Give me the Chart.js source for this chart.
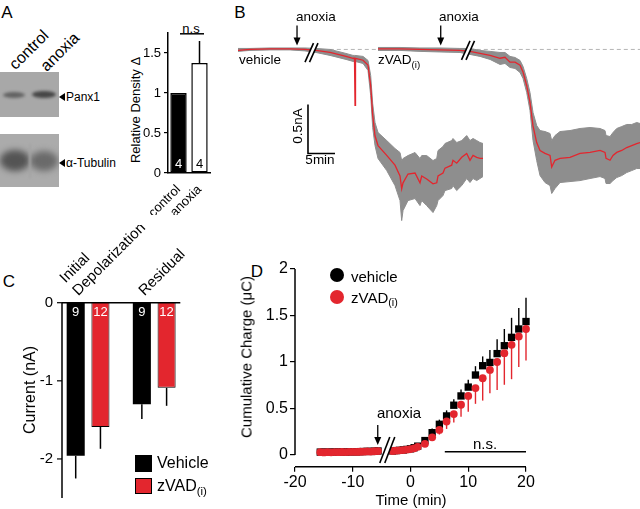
<!DOCTYPE html>
<html><head><meta charset="utf-8">
<script src="https://cdn.jsdelivr.net/npm/chart.js@4.4.1/dist/chart.umd.min.js"></script>
<style>
html,body{margin:0;padding:0;background:#fff;}
#fig{position:relative;width:640px;height:509px;overflow:hidden;font-family:'Liberation Sans',Arial,Helvetica,sans-serif;color:#000;}
canvas{position:absolute;}
.t{position:absolute;white-space:nowrap;line-height:1;transform:translate(-50%,-50%);}
.l{position:absolute;white-space:nowrap;line-height:1;transform:translate(0,-50%);}
.r90{transform:translate(-50%,-50%) rotate(-90deg);}
.r45{transform:translate(-50%,-50%) rotate(-45deg);}
sub{font-size:0.72em;vertical-align:-0.35em;line-height:0;}
.blot{position:absolute;overflow:hidden;}
.band{position:absolute;border-radius:50%;}
.tri{position:absolute;width:0;height:0;border-top:4px solid transparent;border-bottom:4px solid transparent;border-right:6px solid #000;}
.sq{position:absolute;box-sizing:border-box;}
.dot{position:absolute;border-radius:50%;}
</style></head>
<body><div id="fig">
<!-- panel letters -->
<div class="t" style="left:7px;top:12px;font-size:17px">A</div>
<div class="t" style="left:240px;top:12px;font-size:17px">B</div>
<div class="t" style="left:9px;top:281px;font-size:17px">C</div>
<div class="t" style="left:257px;top:271px;font-size:17px">D</div>

<!-- Panel A blots -->
<div class="blot" style="left:0;top:72px;width:59px;height:45px;background:#a8a8a8">
  <div class="band" style="left:3px;top:20px;width:22px;height:6px;background:#626262;filter:blur(1.5px)"></div>
  <div class="band" style="left:32px;top:19px;width:24px;height:7px;background:#464646;filter:blur(1.5px)"></div>
</div>
<div class="blot" style="left:0;top:134px;width:59px;height:53px;background:#ababab">
  <div class="band" style="left:0px;top:16px;width:30px;height:21px;background:#545454;filter:blur(3px)"></div>
  <div class="band" style="left:30px;top:17px;width:28px;height:20px;background:#6a6a6a;filter:blur(3px)"></div>
  <div style="position:absolute;left:29px;top:10px;width:2px;height:34px;background:#a5a5a5;filter:blur(1px)"></div>
</div>
<div class="t r45" style="left:29px;top:50px;font-size:16px">control</div>
<div class="t r45" style="left:60px;top:52px;font-size:16px">anoxia</div>
<div class="tri" style="left:59px;top:93px"></div>
<div class="l" style="left:66px;top:97px;font-size:12px">Panx1</div>
<div class="tri" style="left:59px;top:159px"></div>
<div class="l" style="left:66px;top:163px;font-size:12px">α-Tubulin</div>
<div class="t r90" style="left:135px;top:110px;font-size:13px">Relative Density Δ</div>
<div class="t" style="left:191px;top:28px;font-size:13px">n.s</div>
<canvas id="cA" width="95" height="195" style="left:120px;top:20px"></canvas>

<!-- Panel B -->
<canvas id="cB" width="402" height="206" style="left:238px;top:20px"></canvas>
<div class="l" style="left:296px;top:17px;font-size:13.5px">anoxia</div>
<div class="l" style="left:439px;top:17px;font-size:13.5px">anoxia</div>
<div class="l" style="left:239px;top:60px;font-size:13.5px">vehicle</div>
<div class="l" style="left:378px;top:60px;font-size:13.5px">zVAD<sub>(i)</sub></div>
<div class="t r90" style="left:298px;top:126px;font-size:13.5px">0.5nA</div>
<div class="t" style="left:320px;top:160px;font-size:13.5px">5min</div>

<!-- Panel C -->
<canvas id="cC" width="200" height="284" style="left:0;top:225px"></canvas>
<div class="t r90" style="left:30px;top:390px;font-size:16px">Current (nA)</div>
<div class="sq" style="left:135px;top:455px;width:17px;height:17px;background:#000"></div>
<div class="l" style="left:157px;top:463px;font-size:16px">Vehicle</div>
<div class="sq" style="left:135px;top:478px;width:17px;height:16px;background:#e3262e;border:1px solid #000"></div>
<div class="l" style="left:157px;top:486px;font-size:16px">zVAD<sub>(i)</sub></div>

<!-- Panel D -->
<canvas id="cD" width="400" height="254" style="left:240px;top:255px"></canvas>
<div class="dot" style="left:330px;top:268px;width:14px;height:14px;background:#000"></div>
<div class="l" style="left:351px;top:276px;font-size:15px">vehicle</div>
<div class="dot" style="left:330px;top:290px;width:14px;height:14px;background:#e3262e"></div>
<div class="l" style="left:351px;top:297px;font-size:15px">zVAD<sub>(i)</sub></div>
<div class="t" style="left:399px;top:412px;font-size:15px">anoxia</div>
<div class="t" style="left:485px;top:443px;font-size:15px">n.s.</div>
<div class="t r90" style="left:246px;top:357px;font-size:15px">Cumulative Charge (μC)</div>
<div class="t" style="left:411px;top:499px;font-size:15px">Time (min)</div>
</div>

<script>
// ================= DATA =================
// Panel A: relative density of Panx1
const aCategories = ['control', 'anoxia'];
const aDensity = [1.0, 1.375];
const aDensityErr = [0, 0.275];
const aN = ['4', '4'];
const aSigLevel = 1.74;

// Panel B: mean current traces (nA) with SEM band, time in minutes
const bVehTime  = [0,2.22,5.93,9.63,12.4,14.44,17.04,20.0,21.3,21.57,21.67,21.76,23.15,24.07,24.57,24.94,25.37,25.93,27.54,29.07,30.0,30.31,30.56,31.48,32.78,33.7,34.02,34.94,36.11,36.8,37.04,37.96,38.33,39.57,39.81,40.5,41.43,42.35,42.96,43.52,44.2,44.81,45.37];
const bVehMean  = [-0.01,0,0.005,0.005,0,-0.01,-0.03,-0.07,-0.09,-0.09,-0.57,-0.09,-0.11,-0.16,-0.37,-0.67,-0.88,-0.98,-1.08,-1.18,-1.29,-1.42,-1.36,-1.27,-1.26,-1.36,-1.29,-1.32,-1.37,-1.36,-1.29,-1.26,-1.21,-1.18,-1.13,-1.16,-1.10,-1.06,-1.13,-1.08,-1.10,-1.11,-1.11];
const bVehUpper = [0.01,0.01,0.015,0.015,0.015,0.01,0,-0.041,-0.061,-0.061,-0.061,-0.061,-0.071,-0.112,-0.265,-0.551,-0.745,-0.847,-0.929,-1.01,-1.051,-1.133,-1.112,-1.082,-1.051,-1.112,-1.082,-1.082,-1.133,-1.112,-1.031,-0.99,-0.959,-0.929,-0.908,-0.949,-0.929,-0.878,-0.929,-0.908,-0.929,-0.949,-0.959];
const bVehLower = [-0.02,-0.01,-0.005,-0.005,-0.015,-0.031,-0.061,-0.102,-0.122,-0.122,-0.122,-0.122,-0.143,-0.214,-0.469,-0.796,-0.98,-1.112,-1.235,-1.388,-1.541,-1.745,-1.643,-1.541,-1.52,-1.592,-1.541,-1.592,-1.663,-1.592,-1.541,-1.49,-1.439,-1.418,-1.388,-1.439,-1.388,-1.316,-1.357,-1.316,-1.337,-1.316,-1.296];
const bZTime  = [25.93,30.0,33.7,37.4,41.1,42.96,44.81,46.67,48.52,49.44,50.37,51.3,52.22,52.78,53.46,54.07,54.63,55.31,55.93,56.85,57.78,58.09,58.7,59.63,61.48,63.33,65.19,67.04,67.96,68.15,68.89,69.44,70.13,71.06,71.98,72.91,73.83,74.44];
const bZMean  = [0.005,0.005,0,-0.005,-0.01,-0.02,-0.04,-0.06,-0.09,-0.08,-0.13,-0.13,-0.16,-0.23,-0.37,-0.54,-0.78,-0.95,-1.03,-1.06,-1.08,-1.2,-1.13,-1.11,-1.1,-1.06,-1.05,-1.03,-1.05,-1.11,-1.13,-1.08,-1.05,-1.03,-1.0,-0.98,-0.96,-0.95];
const bZUpper = [0.02,0.02,0.015,0.015,0.01,0.01,-0.01,-0.02,-0.031,-0.031,-0.071,-0.082,-0.112,-0.173,-0.296,-0.439,-0.643,-0.776,-0.827,-0.837,-0.857,-0.929,-0.878,-0.837,-0.827,-0.806,-0.796,-0.806,-0.827,-0.878,-0.888,-0.847,-0.806,-0.786,-0.765,-0.765,-0.745,-0.755];
const bZLower = [-0.01,-0.01,-0.02,-0.026,-0.031,-0.051,-0.071,-0.102,-0.153,-0.143,-0.184,-0.194,-0.235,-0.296,-0.439,-0.622,-0.929,-1.133,-1.286,-1.357,-1.388,-1.469,-1.418,-1.357,-1.347,-1.337,-1.316,-1.296,-1.316,-1.367,-1.367,-1.337,-1.306,-1.286,-1.255,-1.235,-1.214,-1.214];
const bBaseTime = [17, 74.44];
const bBaseline = [0, 0];
const bAnoxiaTimes = [10.93, 37.54];
const bBreakTimes = [13.61, 42.59];
const bBreakLevels = [-0.032, -0.01];
const bScaleT0 = 12.96, bScaleI0 = -1.061, bScaleI = 0.5, bScaleT = 5;

// Panel C: current amplitudes (nA)
const cCategories = [['Initial', 'Depolarization'], 'Residual'];
const cVehicle = [-1.96, -1.30];
const cVehicleErr = [0.29, 0.19];
const cZvad = [-1.59, -1.09];
const cZvadErr = [0.28, 0.23];
const cVehicleN = ['9', '9'];
const cZvadN = ['12', '12'];

// Panel D: cumulative charge (µC) vs time (min)
const dTime = [-15.625,-15,-14.375,-13.75,-13.125,-12.5,-11.875,-11.25,-10.625,-10,-9.375,-8.75,-8.125,-7.5,-6.875,-6.25,-5.625,
               -3.125,-2.5,-1.875,-1.25,-0.625,0,0.625,1.25,2.5,3.75,5,6.25,7.5,8.75,10,11.25,12.5,13.75,15,16.25,17.5,18.75,20];
const dVehicle = [0.031,0.03,0.031,0.03,0.032,0.031,0.033,0.032,0.034,0.035,0.034,0.036,0.037,0.039,0.038,0.041,0.043,
                  0.044,0.047,0.05,0.054,0.06,0.066,0.078,0.095,0.155,0.24,0.33,0.42,0.535,0.635,0.73,0.86,0.96,0.995,1.09,1.175,1.265,1.355,1.435];
const dVehicleErr = [0,0,0,0,0,0,0,0,0,0,0,0,0,0,0,0,0,
                     0,0,0,0,0,0,0.005,0.01,0.02,0.045,0.05,0.06,0.065,0.07,0.08,0.095,0.1,0.135,0.155,0.18,0.21,0.225,0.255];
const dZvad = [0.03,0.028,0.03,0.029,0.031,0.03,0.032,0.031,0.033,0.034,0.033,0.035,0.036,0.038,0.037,0.04,0.042,
               0.043,0.046,0.05,0.053,0.058,0.064,0.072,0.088,0.12,0.19,0.27,0.36,0.44,0.54,0.635,0.72,0.825,0.915,1.0,1.095,1.185,1.275,1.355];
const dZvadErr = [0,0,0,0,0,0,0,0,0,0,0,0,0,0,0,0,0,
                  0,0,0,0,0,0,0.005,0.01,0.02,0.03,0.05,0.08,0.09,0.13,0.17,0.17,0.24,0.25,0.3,0.34,0.37,0.33,0.34];
const dAnoxiaTime = -5.67, dArrowTop = 0.323, dArrowTip = 0.108;
const dBreakTime = -4.02, dBreakLevel = 0.054;
const dNsFrom = 5.94, dNsTo = 20, dNsLevel = 0.036;

// ================= STYLE / HELPERS =================
const RED = '#e3262e', GRAY = '#8e8e8e';
const FONT = "'Liberation Sans', Arial, sans-serif";
Chart.defaults.font.family = FONT;
Chart.defaults.color = '#000';
const pt = (xs, ys) => xs.map((x, i) => ({x: x, y: ys[i]}));
const plainNum = v => String(Math.round(v * 100) / 100);
const base = {
  responsive: false, animation: false, devicePixelRatio: 1,
  plugins: {legend: {display: false}, tooltip: {enabled: false}}
};
function drawArrow(ctx, px, yTop, yTip) {
  ctx.beginPath(); ctx.moveTo(px, yTop); ctx.lineTo(px, yTip - 5); ctx.stroke();
  ctx.beginPath(); ctx.moveTo(px - 3.5, yTip - 8); ctx.lineTo(px + 3.5, yTip - 8); ctx.lineTo(px, yTip); ctx.closePath(); ctx.fill();
}
function drawBreak(ctx, cx, cy, dx, dy, sep) {
  ctx.save();
  ctx.fillStyle = '#fff';
  ctx.beginPath();
  ctx.moveTo(cx - sep / 2 - dx / 2, cy + dy / 2);
  ctx.lineTo(cx - sep / 2 + dx / 2, cy - dy / 2);
  ctx.lineTo(cx + sep / 2 + dx / 2, cy - dy / 2);
  ctx.lineTo(cx + sep / 2 - dx / 2, cy + dy / 2);
  ctx.closePath(); ctx.fill();
  ctx.strokeStyle = '#000'; ctx.lineWidth = 1.6;
  [-sep / 2, sep / 2].forEach(k => {
    ctx.beginPath(); ctx.moveTo(cx + k - dx / 2, cy + dy / 2); ctx.lineTo(cx + k + dx / 2, cy - dy / 2); ctx.stroke();
  });
  ctx.restore();
}
const tickGrid = {display: true, drawOnChartArea: false, drawTicks: true, color: '#000', lineWidth: 1.2};

// ================= PANEL A =================
const aPlugin = {
  id: 'aExtras',
  afterDatasetsDraw(chart) {
    const ctx = chart.ctx, y = chart.scales.y, meta = chart.getDatasetMeta(0);
    ctx.save();
    ctx.strokeStyle = '#000'; ctx.lineWidth = 1.5;
    meta.data.forEach((bar, i) => {
      if (aDensityErr[i] > 0) {
        ctx.beginPath();
        ctx.moveTo(bar.x, y.getPixelForValue(aDensity[i]));
        ctx.lineTo(bar.x, y.getPixelForValue(aDensity[i] + aDensityErr[i]));
        ctx.stroke();
      }
    });
    const yNs = y.getPixelForValue(aSigLevel);
    ctx.beginPath(); ctx.moveTo(meta.data[0].x + 1.5, yNs); ctx.lineTo(meta.data[1].x + 4.5, yNs); ctx.stroke();
    ctx.font = '13px ' + FONT; ctx.textAlign = 'center'; ctx.textBaseline = 'middle';
    meta.data.forEach((bar, i) => {
      ctx.fillStyle = i === 0 ? '#fff' : '#000';
      ctx.fillText(aN[i], bar.x, y.getPixelForValue(0) - 9);
    });
    ctx.restore();
  }
};
new Chart(document.getElementById('cA'), {
  type: 'bar',
  data: {labels: aCategories, datasets: [{
    data: aDensity, backgroundColor: ['#000', '#fff'], borderColor: '#000', borderWidth: 1.5,
    borderSkipped: false, categoryPercentage: 1, barPercentage: 0.78
  }]},
  options: Object.assign({}, base, {
    layout: {padding: {top: 13, right: 5, left: 0, bottom: 0}},
    scales: {
      x: {ticks: {font: {size: 13}, maxRotation: 45, minRotation: 45, padding: 1, autoSkip: false},
          grid: {display: false}, border: {display: true, color: '#000', width: 1.5},
          afterFit(s) { s.height = 42; }},
      y: {min: 0, max: 1.75, ticks: {stepSize: 0.5, includeBounds: false, font: {size: 13}, padding: 3, callback: plainNum},
          grid: Object.assign({}, tickGrid, {tickLength: 4}), border: {display: true, color: '#000', width: 1.5},
          afterFit(s) { s.width = 48; }}
    }
  }),
  plugins: [aPlugin]
});

// ================= PANEL B =================
const bPlugin = {
  id: 'bExtras',
  afterDatasetsDraw(chart) {
    const {ctx, scales: {x, y}} = chart;
    ctx.save();
    ctx.strokeStyle = '#000'; ctx.fillStyle = '#000'; ctx.lineWidth = 1.3;
    bAnoxiaTimes.forEach(t => drawArrow(ctx, x.getPixelForValue(t), y.getPixelForValue(0.245), y.getPixelForValue(0.04)));
    bBreakTimes.forEach((t, i) => drawBreak(ctx, x.getPixelForValue(t), y.getPixelForValue(bBreakLevels[i]), 8.5, 19, 4.5));
    const x0 = x.getPixelForValue(bScaleT0), y0 = y.getPixelForValue(bScaleI0);
    ctx.lineWidth = 1.6;
    ctx.beginPath();
    ctx.moveTo(x0, y.getPixelForValue(bScaleI0 + bScaleI));
    ctx.lineTo(x0, y0);
    ctx.lineTo(x.getPixelForValue(bScaleT0 + bScaleT), y0);
    ctx.stroke();
    ctx.restore();
  }
};
const bandStyle = {borderColor: GRAY, borderWidth: 1, backgroundColor: GRAY, pointRadius: 0, order: 3};
new Chart(document.getElementById('cB'), {
  type: 'line',
  data: {datasets: [
    Object.assign({data: pt(bVehTime, bVehUpper), fill: 1}, bandStyle),
    Object.assign({data: pt(bVehTime, bVehLower), fill: false}, bandStyle),
    Object.assign({data: pt(bZTime, bZUpper), fill: 3}, bandStyle),
    Object.assign({data: pt(bZTime, bZLower), fill: false}, bandStyle),
    {data: pt(bBaseTime, bBaseline), borderColor: '#b4b4b4', borderDash: [4, 3], borderWidth: 1, pointRadius: 0, fill: false, order: 4},
    {data: pt(bVehTime, bVehMean), borderColor: RED, borderWidth: 1.3, pointRadius: 0, fill: false, order: 1},
    {data: pt(bZTime, bZMean), borderColor: RED, borderWidth: 1.3, pointRadius: 0, fill: false, order: 1}
  ]},
  options: Object.assign({}, base, {
    layout: {padding: 0},
    elements: {line: {tension: 0}},
    scales: {
      x: {type: 'linear', min: 0, max: 74.44, display: false},
      y: {min: -1.8, max: 0.3, display: false}
    }
  }),
  plugins: [bPlugin]
});

// ================= PANEL C =================
const cAxisInset = 7;
const cPlugin = {
  id: 'cExtras',
  afterDatasetsDraw(chart) {
    const {ctx, chartArea: ca, scales: {y}} = chart;
    const ax = ca.left + cAxisInset, y0 = y.getPixelForValue(0);
    ctx.save();
    ctx.strokeStyle = '#000'; ctx.lineWidth = 1.5;
    [[cVehicle, cVehicleErr, 0], [cZvad, cZvadErr, 1]].forEach(([vals, errs, di]) => {
      chart.getDatasetMeta(di).data.forEach((bar, i) => {
        ctx.beginPath();
        ctx.moveTo(bar.x, y.getPixelForValue(vals[i]));
        ctx.lineTo(bar.x, y.getPixelForValue(vals[i] - errs[i]));
        ctx.stroke();
      });
    });
    ctx.beginPath(); ctx.moveTo(ax, ca.top); ctx.lineTo(ax, ca.bottom); ctx.stroke();
    ctx.beginPath(); ctx.moveTo(ax, y0); ctx.lineTo(ca.right - cAxisInset, y0); ctx.stroke();
    ctx.lineWidth = 1.2;
    y.ticks.forEach(tk => {
      const py = y.getPixelForValue(tk.value);
      ctx.beginPath(); ctx.moveTo(ax - 5, py); ctx.lineTo(ax, py); ctx.stroke();
    });
    ctx.fillStyle = '#fff'; ctx.font = '13px ' + FONT; ctx.textAlign = 'center'; ctx.textBaseline = 'middle';
    chart.getDatasetMeta(0).data.forEach((bar, i) => ctx.fillText(cVehicleN[i], bar.x, y0 + 10));
    chart.getDatasetMeta(1).data.forEach((bar, i) => ctx.fillText(cZvadN[i], bar.x, y0 + 10));
    ctx.restore();
  }
};
new Chart(document.getElementById('cC'), {
  type: 'bar',
  data: {labels: cCategories, datasets: [
    {label: 'Vehicle', data: cVehicle, backgroundColor: '#000', borderColor: '#000', borderWidth: 0, categoryPercentage: 0.748, barPercentage: 0.73},
    {label: 'zVAD(i)', data: cZvad, backgroundColor: RED, borderColor: '#000', borderWidth: 1, categoryPercentage: 0.748, barPercentage: 0.73}
  ]},
  options: Object.assign({}, base, {
    layout: {padding: {top: 0, right: 6, left: 0, bottom: 1.3}},
    scales: {
      x: {position: 'top', ticks: {font: {size: 15}, maxRotation: 45, minRotation: 45, padding: 3, autoSkip: false},
          grid: {display: false, drawTicks: false}, border: {display: false},
          afterFit(s) { s.height = 77.7; }},
      y: {min: -2.5, max: 0, ticks: {stepSize: 1, includeBounds: false, font: {size: 15}, padding: 2},
          grid: {display: false, drawTicks: false}, border: {display: false},
          afterFit(s) { s.width = 55; }}
    }
  }),
  plugins: [cPlugin]
});

// ================= PANEL D =================
const dPlugin = {
  id: 'dExtras',
  beforeDatasetsDraw(chart) {
    const {ctx, scales: {x, y}} = chart;
    ctx.save(); ctx.lineWidth = 1.4;
    ctx.strokeStyle = '#000';
    dTime.forEach((t, i) => {
      if (dVehicleErr[i] > 0) {
        ctx.beginPath(); ctx.moveTo(x.getPixelForValue(t), y.getPixelForValue(dVehicle[i]));
        ctx.lineTo(x.getPixelForValue(t), y.getPixelForValue(dVehicle[i] + dVehicleErr[i])); ctx.stroke();
      }
    });
    ctx.strokeStyle = RED;
    dTime.forEach((t, i) => {
      if (dZvadErr[i] > 0) {
        ctx.beginPath(); ctx.moveTo(x.getPixelForValue(t), y.getPixelForValue(dZvad[i]));
        ctx.lineTo(x.getPixelForValue(t), y.getPixelForValue(dZvad[i] - dZvadErr[i])); ctx.stroke();
      }
    });
    ctx.restore();
  },
  afterDatasetsDraw(chart) {
    const {ctx, chartArea: ca, scales: {x, y}} = chart;
    ctx.save();
    ctx.strokeStyle = '#000'; ctx.fillStyle = '#000'; ctx.lineWidth = 1.5;
    ctx.beginPath(); ctx.moveTo(ca.left, y.getPixelForValue(2)); ctx.lineTo(ca.left, y.getPixelForValue(0)); ctx.stroke();
    ctx.beginPath(); ctx.moveTo(ca.left, ca.bottom); ctx.lineTo(ca.right, ca.bottom); ctx.stroke();
    ctx.beginPath(); ctx.moveTo(x.getPixelForValue(dNsFrom), y.getPixelForValue(dNsLevel)); ctx.lineTo(x.getPixelForValue(dNsTo), y.getPixelForValue(dNsLevel)); ctx.stroke();
    ctx.lineWidth = 1.3;
    drawArrow(ctx, x.getPixelForValue(dAnoxiaTime), y.getPixelForValue(dArrowTop), y.getPixelForValue(dArrowTip));
    drawBreak(ctx, x.getPixelForValue(dBreakTime), y.getPixelForValue(dBreakLevel), 10, 26, 5);
    ctx.restore();
  }
};
new Chart(document.getElementById('cD'), {
  type: 'line',
  data: {datasets: [
    {label: 'vehicle', data: pt(dTime, dVehicle), showLine: false, pointStyle: 'rect', pointRadius: 5.2,
     pointBackgroundColor: '#000', pointBorderColor: '#000', pointBorderWidth: 0, clip: false, order: 2},
    {label: 'zVAD(i)', data: pt(dTime, dZvad), showLine: false, pointStyle: 'circle', pointRadius: 3.9,
     pointBackgroundColor: RED, pointBorderColor: RED, pointBorderWidth: 0, clip: false, order: 1}
  ]},
  options: Object.assign({}, base, {
    layout: {padding: {top: 14, right: 114, left: 0, bottom: 0}},
    scales: {
      x: {type: 'linear', min: -20, max: 20, ticks: {stepSize: 10, font: {size: 16}, padding: 1},
          grid: Object.assign({}, tickGrid, {tickLength: 5}), border: {display: false},
          afterFit(s) { s.height = 42.3; }},
      y: {min: -0.126, max: 2, ticks: {stepSize: 0.5, includeBounds: false, font: {size: 16}, padding: 2, callback: plainNum},
          grid: Object.assign({}, tickGrid, {tickLength: 5}), border: {display: false},
          afterFit(s) { s.width = 55; }}
    }
  }),
  plugins: [dPlugin]
});
</script>
</body></html>
